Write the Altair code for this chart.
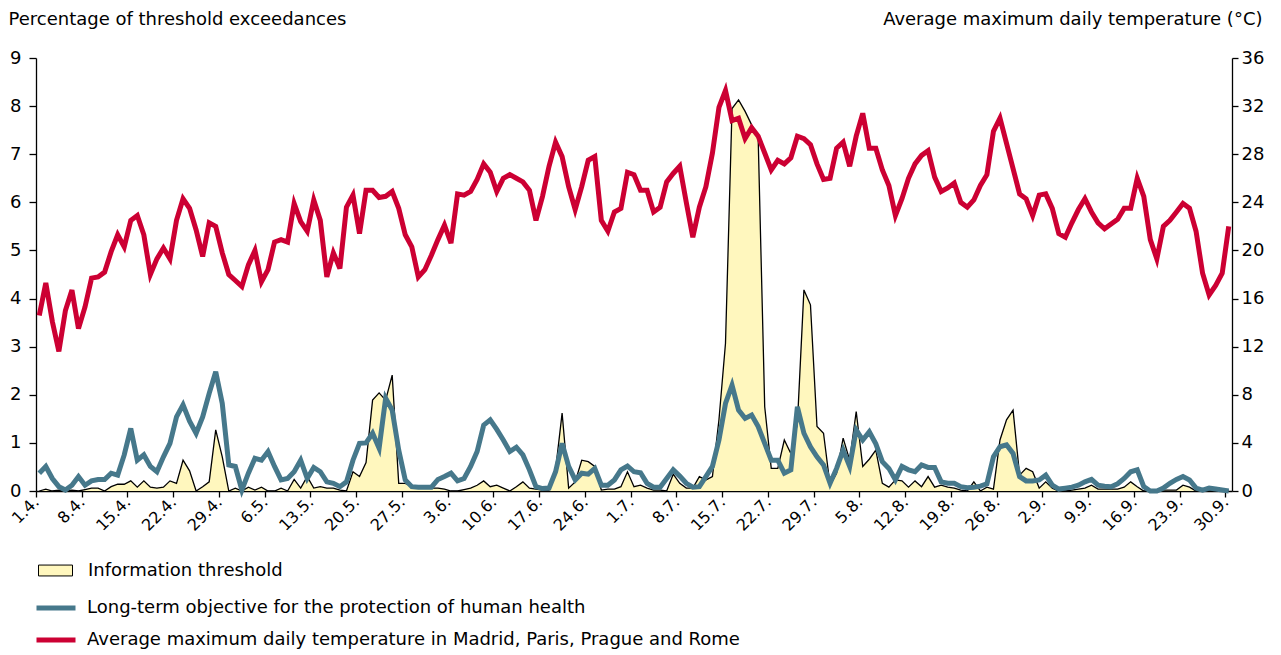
import altair as alt
import pandas as pd

# Daily values, 1 April - 30 September (183 days)
temperature = [
    14.6, 17.3, 14.1, 11.6, 15.0, 16.7, 13.5, 15.3, 17.7, 17.8,
    18.2, 19.9, 21.3, 20.3, 22.5, 22.9, 21.3, 18.0, 19.3, 20.2,
    19.3, 22.5, 24.3, 23.5, 21.7, 19.5, 22.3, 22.0, 19.8, 18.0,
    17.5, 17.0, 18.8, 20.0, 17.4, 18.4, 20.7, 20.9, 20.7, 23.9,
    22.4, 21.6, 24.2, 22.5, 17.8, 19.8, 18.5, 23.6, 24.6, 21.4,
    25.0, 25.0, 24.4, 24.5, 24.9, 23.5, 21.3, 20.3, 17.8, 18.4,
    19.6, 20.9, 22.1, 20.6, 24.7, 24.6, 24.9, 25.9, 27.2, 26.5,
    24.9, 26.0, 26.3, 26.0, 25.7, 25.0, 22.5, 24.5, 27.0, 29.0,
    27.8, 25.3, 23.4, 25.3, 27.5, 27.8, 22.5, 21.6, 23.2, 23.5,
    26.5, 26.3, 25.0, 25.0, 23.2, 23.6, 25.7, 26.4, 27.0, 24.0,
    21.1, 23.6, 25.3, 28.1, 31.9, 33.3, 30.8, 31.0, 29.3, 30.2,
    29.5, 28.1, 26.7, 27.5, 27.2, 27.7, 29.5, 29.3, 28.8, 27.2,
    25.9, 26.0, 28.5, 29.0, 27.0, 29.5, 31.4, 28.5, 28.5, 26.7,
    25.4, 22.9, 24.3, 26.0, 27.2, 27.9, 28.3, 26.1, 24.9, 25.2,
    25.6, 24.0, 23.6, 24.2, 25.4, 26.3, 29.9, 31.0, 28.9, 26.8,
    24.7, 24.3, 22.9, 24.6, 24.7, 23.5, 21.4, 21.1, 22.3, 23.4,
    24.3, 23.2, 22.3, 21.8, 22.2, 22.6, 23.5, 23.5, 26.0, 24.5,
    20.9, 19.3, 22.0, 22.5, 23.2, 23.9, 23.5, 21.6, 18.1, 16.3,
    17.1, 18.1, 22.0,
]

long_term = [
    0.37, 0.51, 0.26, 0.09, 0.02, 0.12, 0.30, 0.12, 0.21, 0.24,
    0.24, 0.37, 0.33, 0.75, 1.30, 0.64, 0.75, 0.51, 0.40, 0.71,
    0.99, 1.54, 1.79, 1.45, 1.20, 1.54, 2.03, 2.48, 1.82, 0.54,
    0.51, 0.02, 0.37, 0.68, 0.64, 0.82, 0.51, 0.23, 0.26, 0.40,
    0.64, 0.26, 0.49, 0.40, 0.19, 0.16, 0.09, 0.19, 0.64, 0.99,
    1.00, 1.20, 0.89, 1.93, 1.68, 0.85, 0.23, 0.09, 0.08, 0.08,
    0.08, 0.24, 0.30, 0.37, 0.21, 0.26, 0.51, 0.82, 1.37, 1.48,
    1.28, 1.06, 0.82, 0.91, 0.75, 0.44, 0.09, 0.05, 0.06, 0.40,
    0.99, 0.51, 0.23, 0.37, 0.35, 0.47, 0.12, 0.12, 0.23, 0.44,
    0.52, 0.40, 0.38, 0.16, 0.08, 0.08, 0.26, 0.44, 0.31, 0.16,
    0.08, 0.09, 0.30, 0.51, 1.06, 1.82, 2.20, 1.68, 1.51, 1.58,
    1.34, 0.99, 0.64, 0.64, 0.37, 0.44, 1.75, 1.20, 0.92, 0.71,
    0.54, 0.16, 0.47, 0.85, 0.51, 1.27, 1.06, 1.23, 0.98, 0.61,
    0.47, 0.23, 0.51, 0.44, 0.40, 0.54, 0.49, 0.49, 0.19, 0.16,
    0.16, 0.09, 0.07, 0.08, 0.10, 0.15, 0.71, 0.92, 0.96, 0.78,
    0.30, 0.21, 0.21, 0.23, 0.33, 0.12, 0.04, 0.06, 0.08, 0.12,
    0.19, 0.24, 0.12, 0.10, 0.09, 0.15, 0.26, 0.40, 0.44, 0.09,
    0.00, 0.00, 0.06, 0.16, 0.24, 0.30, 0.23, 0.06, 0.02, 0.06,
    0.04, 0.02, 0.00,
]

info_threshold = [
    0.00, 0.04, 0.00, 0.02, 0.00, 0.02, 0.00, 0.03, 0.06, 0.06,
    0.00, 0.09, 0.14, 0.14, 0.21, 0.08, 0.21, 0.08, 0.06, 0.08,
    0.21, 0.16, 0.64, 0.42, 0.00, 0.09, 0.19, 1.27, 0.71, 0.00,
    0.06, 0.00, 0.08, 0.02, 0.08, 0.00, 0.00, 0.06, 0.00, 0.24,
    0.06, 0.30, 0.06, 0.09, 0.06, 0.06, 0.02, 0.00, 0.40, 0.30,
    0.59, 1.89, 2.04, 1.89, 2.41, 0.16, 0.16, 0.10, 0.06, 0.06,
    0.06, 0.06, 0.04, 0.00, 0.00, 0.03, 0.06, 0.12, 0.21, 0.09,
    0.12, 0.06, 0.00, 0.09, 0.19, 0.06, 0.04, 0.02, 0.02, 0.44,
    1.62, 0.06, 0.19, 0.64, 0.61, 0.51, 0.02, 0.04, 0.04, 0.09,
    0.40, 0.09, 0.12, 0.06, 0.02, 0.02, 0.00, 0.35, 0.16, 0.06,
    0.06, 0.30, 0.23, 0.30, 1.48, 3.07, 7.95, 8.13, 7.89, 7.61,
    7.33, 1.75, 0.47, 0.47, 1.06, 0.78, 1.40, 4.18, 3.87, 1.34,
    1.20, 0.12, 0.37, 1.10, 0.64, 1.65, 0.51, 0.66, 0.85, 0.16,
    0.08, 0.23, 0.21, 0.08, 0.21, 0.09, 0.30, 0.08, 0.12, 0.08,
    0.06, 0.02, 0.00, 0.19, 0.00, 0.08, 0.04, 1.06, 1.48, 1.68,
    0.33, 0.47, 0.40, 0.06, 0.19, 0.06, 0.00, 0.00, 0.02, 0.04,
    0.06, 0.12, 0.04, 0.04, 0.04, 0.04, 0.08, 0.19, 0.09, 0.00,
    0.00, 0.00, 0.02, 0.02, 0.02, 0.12, 0.08, 0.00, 0.00, 0.00,
    0.00, 0.00, 0.00,
]

tick_labels = ["1.4.", "8.4.", "15.4.", "22.4.", "29.4.", "6.5.", "13.5.", "20.5.",
               "27.5.", "3.6.", "10.6.", "17.6.", "24.6.", "1.7.", "8.7.", "15.7.",
               "22.7.", "29.7.", "5.8.", "12.8.", "19.8.", "26.8.", "2.9.", "9.9.",
               "16.9.", "23.9.", "30.9."]

series_names = ["Information threshold",
                "Long-term objective for the protection of human health",
                "Average maximum daily temperature in Madrid, Paris, Prague and Rome"]

RED = "#cc0033"
TEAL = "#46788b"
YELLOW = "#fff7be"
FONT = "DejaVu Sans"
FS = 18

n = len(temperature)
df = pd.DataFrame({
    "day": [i + 0.5 for i in range(n)],
    "threshold": info_threshold,
    "ltobj": long_term,
    "temp": temperature,
})

label_expr = "[" + ",".join("'%s'" % t for t in tick_labels) + "][round(datum.value / 7)]"

x_enc = alt.X("day:Q",
              scale=alt.Scale(domain=[0, n], nice=False, zero=False),
              axis=alt.Axis(values=list(range(0, n, 7)), labelExpr=label_expr,
                            title=None, labelAngle=-45, labelAlign="right",
                            labelBaseline="middle", tickSize=6, labelPadding=2,
                            labelFontSize=16, grid=False))

left_axis = alt.Axis(values=list(range(0, 10)), title="Percentage of threshold exceedances",
                     titleAngle=0, titleAlign="left", titleBaseline="alphabetic",
                     titleX=-28, titleY=-34, tickSize=7, labelPadding=8, grid=False)
left_scale = alt.Scale(domain=[0, 9], nice=False)

base = alt.Chart(df)

area = base.transform_calculate(s="'%s'" % series_names[0]).mark_area(
    opacity=1, interpolate="linear").encode(
    x=x_enc,
    y=alt.Y("threshold:Q", scale=left_scale, axis=left_axis),
    fill=alt.Fill("s:N", scale=alt.Scale(domain=[series_names[0]], range=[YELLOW]),
                  legend=alt.Legend(orient="none", legendX=2, legendY=495, title=None,
                                    symbolType="M-1,-0.32H1V0.32H-1Z", symbolSize=1156,
                                    symbolStrokeColor="black", symbolStrokeWidth=1,
                                    symbolOpacity=1, labelOffset=15, labelLimit=1000,
                                    labelFontSize=FS)),
)

outline = base.mark_line(color="black", strokeWidth=1.3).encode(
    x=x_enc,
    y=alt.Y("threshold:Q", scale=left_scale, axis=left_axis),
)

stroke_scale = alt.Scale(domain=series_names[1:], range=[TEAL, RED])
stroke_legend = alt.Legend(orient="none", legendX=-2, legendY=528, title=None,
                           symbolType="stroke", symbolSize=1521, symbolStrokeWidth=5,
                           labelOffset=9, labelLimit=1000, labelFontSize=FS, rowPadding=-4)

teal = base.transform_calculate(series="'%s'" % series_names[1]).mark_line(
    strokeWidth=5).encode(
    x=x_enc,
    y=alt.Y("ltobj:Q", scale=left_scale, axis=left_axis),
    stroke=alt.Stroke("series:N", scale=stroke_scale, legend=stroke_legend),
)

red = base.transform_calculate(series="'%s'" % series_names[2]).mark_line(
    strokeWidth=5).encode(
    x=x_enc,
    y=alt.Y("temp:Q", scale=alt.Scale(domain=[0, 36], nice=False),
            axis=alt.Axis(orient="right", values=list(range(0, 37, 4)),
                          title="Average maximum daily temperature (°C)",
                          titleAngle=0, titleAlign="right", titleBaseline="alphabetic",
                          titleX=30, titleY=-34, tickSize=6, labelPadding=3, grid=False)),
    stroke=alt.Stroke("series:N", scale=stroke_scale, legend=stroke_legend),
)

chart = alt.layer(alt.layer(area, outline, teal), red).resolve_scale(
    y="independent"
).properties(
    width=1196, height=433,
    autosize=alt.AutoSizeParams(type="none"),
    padding={"left": 28, "top": 50, "right": 37, "bottom": 160},
).configure_view(stroke=None).configure_axis(
    domainColor="black", tickColor="black", labelColor="black", titleColor="black",
    labelFont=FONT, titleFont=FONT, labelFontSize=FS, titleFontSize=FS,
    titleFontWeight="normal", domainWidth=1.3, tickWidth=1.3,
).configure_legend(
    labelFont=FONT, labelColor="black", labelFontSize=FS,
)

chart.save("out.html", embed_options={"renderer": "svg", "actions": False})
